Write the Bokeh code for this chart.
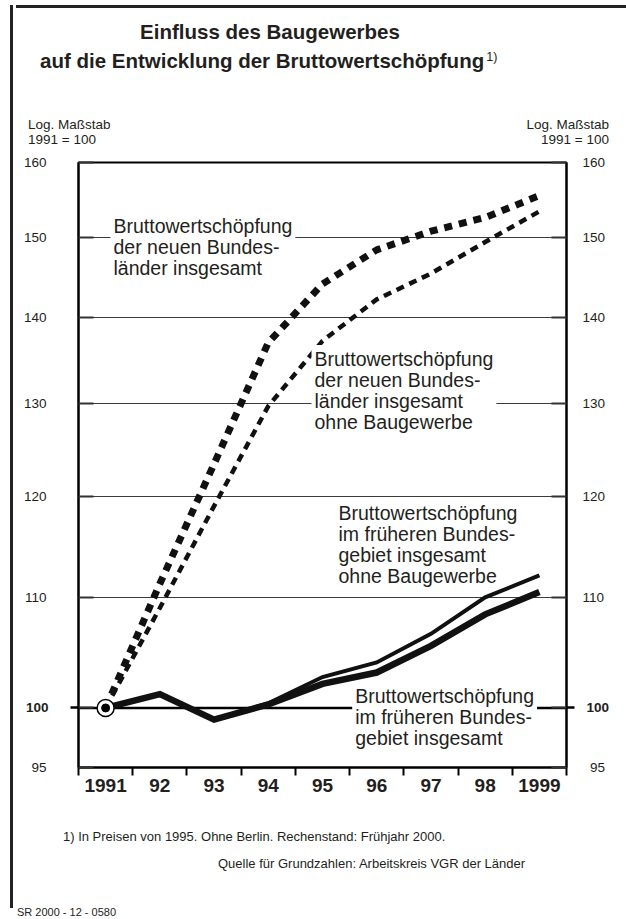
from bokeh.plotting import figure
from bokeh.layouts import row, column
from bokeh.models import Range1d, FixedTicker, LogAxis, Label, Span, BasicTickFormatter, Div
from bokeh.embed import file_html
from bokeh.resources import INLINE

# ---- data -------------------------------------------------------------
years = [1991, 1992, 1993, 1994, 1995, 1996, 1997, 1998, 1999]
year_labels = ["1991", "92", "93", "94", "95", "96", "97", "98", "1999"]
year_bounds = [1990.5 + i for i in range(10)]
neue_insgesamt = [100, 111.3, 123.4, 137.0, 144.1, 148.4, 150.8, 152.6, 155.5]
neue_ohne_bau = [100, 109.0, 119.0, 129.7, 137.2, 142.2, 145.4, 149.4, 153.4]
frueher_ohne_bau = [100, 101.2, 99.0, 100.4, 102.7, 104.0, 106.6, 110.0, 112.1]
frueher_insgesamt = [100, 101.2, 99.0, 100.3, 102.1, 103.1, 105.5, 108.4, 110.5]
y_ticks = [95, 100, 110, 120, 130, 140, 150, 160]
grid_values = [110, 120, 130, 140, 150]
base_value = 100

title_1 = "Einfluss des Baugewerbes"
title_2 = "auf die Entwicklung der Bruttowertschöpfung"
title_note = "1)"
axis_title_1 = "Log. Maßstab"
axis_title_2 = "1991 = 100"
footnote = "1) In Preisen von 1995. Ohne Berlin. Rechenstand: Frühjahr 2000."
source = "Quelle für Grundzahlen: Arbeitskreis VGR der Länder"
code = "SR 2000 - 12 - 0580"

FONT = "Liberation Sans"
INK = "#231f20"

p = figure(width=607, height=655, x_range=Range1d(1990.5, 1999.5), y_range=Range1d(95, 160),
           y_axis_type="log", output_backend="svg", toolbar_location=None,
           min_border_left=60, min_border_right=59, min_border_top=10, min_border_bottom=40,
           background_fill_color="white", border_fill_color="white")
p.outline_line_color = "black"
p.outline_line_width = 2

# ---- axes -------------------------------------------------------------
y_overrides = {t: str(t) for t in y_ticks}
y_overrides[base_value] = ""

def style_y(ax, standoff):
    ax.ticker = FixedTicker(ticks=y_ticks, minor_ticks=[base_value])
    ax.formatter = BasicTickFormatter()
    ax.major_label_overrides = dict(y_overrides)
    ax.axis_line_width = 2
    ax.axis_line_color = "black"
    ax.major_tick_in = 15
    ax.major_tick_out = 0
    ax.major_tick_line_width = 2
    ax.major_tick_line_color = "#333333"
    ax.minor_tick_in = 0
    ax.minor_tick_out = 8
    ax.minor_tick_line_width = 2.5
    ax.minor_tick_line_color = "black"
    ax.major_label_text_font = FONT
    ax.major_label_text_font_size = "13.5px"
    ax.major_label_text_color = INK
    ax.major_label_standoff = standoff

def bold_base_axis(standoff):
    ax = LogAxis(ticker=FixedTicker(ticks=[base_value]), formatter=BasicTickFormatter())
    ax.axis_line_color = None
    ax.major_tick_line_color = None
    ax.minor_tick_line_color = None
    ax.major_tick_in = 0
    ax.major_tick_out = 0
    ax.minor_tick_in = 0
    ax.minor_tick_out = 0
    ax.major_label_text_font = FONT
    ax.major_label_text_font_size = "13.5px"
    ax.major_label_text_font_style = "bold"
    ax.major_label_text_color = INK
    ax.major_label_standoff = standoff
    return ax

left_ax = p.yaxis[0]
style_y(left_ax, 24)
p.add_layout(bold_base_axis(-28), "left")

right_ax = LogAxis()
style_y(right_ax, 8)
right_ax.major_label_overrides[95] = "\u200795"
p.add_layout(right_ax, "right")
p.add_layout(bold_base_axis(-22), "right")

xa = p.xaxis[0]
xa.ticker = FixedTicker(ticks=years, minor_ticks=year_bounds)
xa.major_label_overrides = dict(zip(years, year_labels))
xa.axis_line_width = 2
xa.axis_line_color = "black"
xa.major_tick_in = 0
xa.major_tick_out = 0
xa.minor_tick_in = 0
xa.minor_tick_out = 8
xa.minor_tick_line_width = 2
xa.minor_tick_line_color = "black"
xa.major_label_text_font = FONT
xa.major_label_text_font_style = "bold"
xa.major_label_text_font_size = "19px"
xa.major_label_text_color = INK
xa.major_label_standoff = 3

p.xgrid.visible = False
p.ygrid.ticker = FixedTicker(ticks=grid_values)
p.ygrid.grid_line_color = "#3a3a3a"
p.ygrid.grid_line_width = 1.2

p.add_layout(Span(location=base_value, dimension="width", line_color="black",
                  line_width=2.5, level="underlay"))

# ---- series -----------------------------------------------------------
p.line(years, frueher_insgesamt, line_color="#111111", line_width=6.5, line_join="miter")
p.line(years, frueher_ohne_bau, line_color="#111111", line_width=4, line_join="miter")
p.line(years, neue_ohne_bau, line_color="#111111", line_width=4.5, line_dash="8 6", line_cap="butt")
p.line(years, neue_insgesamt, line_color="#111111", line_width=7, line_dash="8 7", line_cap="butt")
p.scatter([years[0]], [base_value], size=17, fill_color="white", line_color="black", line_width=1.5)
p.scatter([years[0]], [base_value], size=8, fill_color="black", line_color="black")

# ---- in-plot annotations ----------------------------------------------
def lab(text, x, y, bg=False):
    l = Label(x=x, y=y, x_units="screen", y_units="screen", text=text, text_font=FONT,
              text_font_size="19.5px", text_align="left", text_baseline="top",
              text_color=INK, text_line_height=0.96)
    if bg:
        l.background_fill_color = "white"
        l.padding = 3
    p.add_layout(l)

lab("Bruttowertschöpfung\nder neuen Bundes-\nländer insgesamt", 32, 556, bg=True)
lab("Bruttowertschöpfung\nder neuen Bundes-\nländer insgesamt\nohne Baugewerbe", 233, 422.5, bg=True)
lab("Bruttowertschöpfung\nim früheren Bundes-\ngebiet insgesamt\nohne Baugewerbe", 260, 265.5)
lab("Bruttowertschöpfung\nim früheren Bundes-\ngebiet insgesamt", 273.7, 86, bg=True)

# ---- texts around the chart (HTML) --------------------------------------
def t(text, top, size, left=None, right=None, width=None, bold=False, align="left"):
    pos = f"left:{left}px;" if left is not None else f"right:{right}px;"
    w = f"width:{width}px;" if width is not None else ""
    return (f'<div style="position:absolute;top:{top}px;{pos}{w}text-align:{align};'
            f"font-family:'{FONT}',Arial,sans-serif;font-size:{size}px;line-height:{size}px;"
            f'font-weight:{"bold" if bold else "normal"};color:{INK};white-space:nowrap;">{text}</div>')

def box(w, h, inner):
    return f'<div style="position:relative;width:{w}px;height:{h}px;margin:0;padding:0;overflow:visible;">{inner}</div>'

top_html = box(610, 142,
    '<div style="position:absolute;left:-7px;top:0;width:617px;height:3px;background:#222222;"></div>'
    + t(title_1, 17, 20.5, left=0, width=494, bold=True, align="center")
    + t(title_2 + f'<span style="font-size:12.5px;font-weight:normal;position:relative;top:-7px;margin-left:2px;">{title_note}</span>',
        46, 20.5, left=17, bold=True)
    + t(axis_title_1, 113, 13.5, left=5)
    + t(axis_title_2, 128, 13.5, left=5)
    + t(axis_title_1, 113, 13.5, right=24, align="right")
    + t(axis_title_2, 128, 13.5, right=24, align="right"))

bottom_html = box(610, 106,
    t(footnote, 18, 13, left=40)
    + t(source, 45, 13, left=195)
    + t(code, 95, 11, left=-6))

left_html = box(8, 903,
    '<div style="position:absolute;left:5px;top:0;width:3px;height:903px;background:#222222;"></div>')

top_div = Div(text=top_html, width=610, height=142)
bottom_div = Div(text=bottom_html, width=610, height=106)
left_div = Div(text=left_html, width=8, height=903)

layout = row(left_div, column(top_div, p, bottom_div, spacing=0), spacing=0)

open("out.html", "w").write(file_html(layout, INLINE))
